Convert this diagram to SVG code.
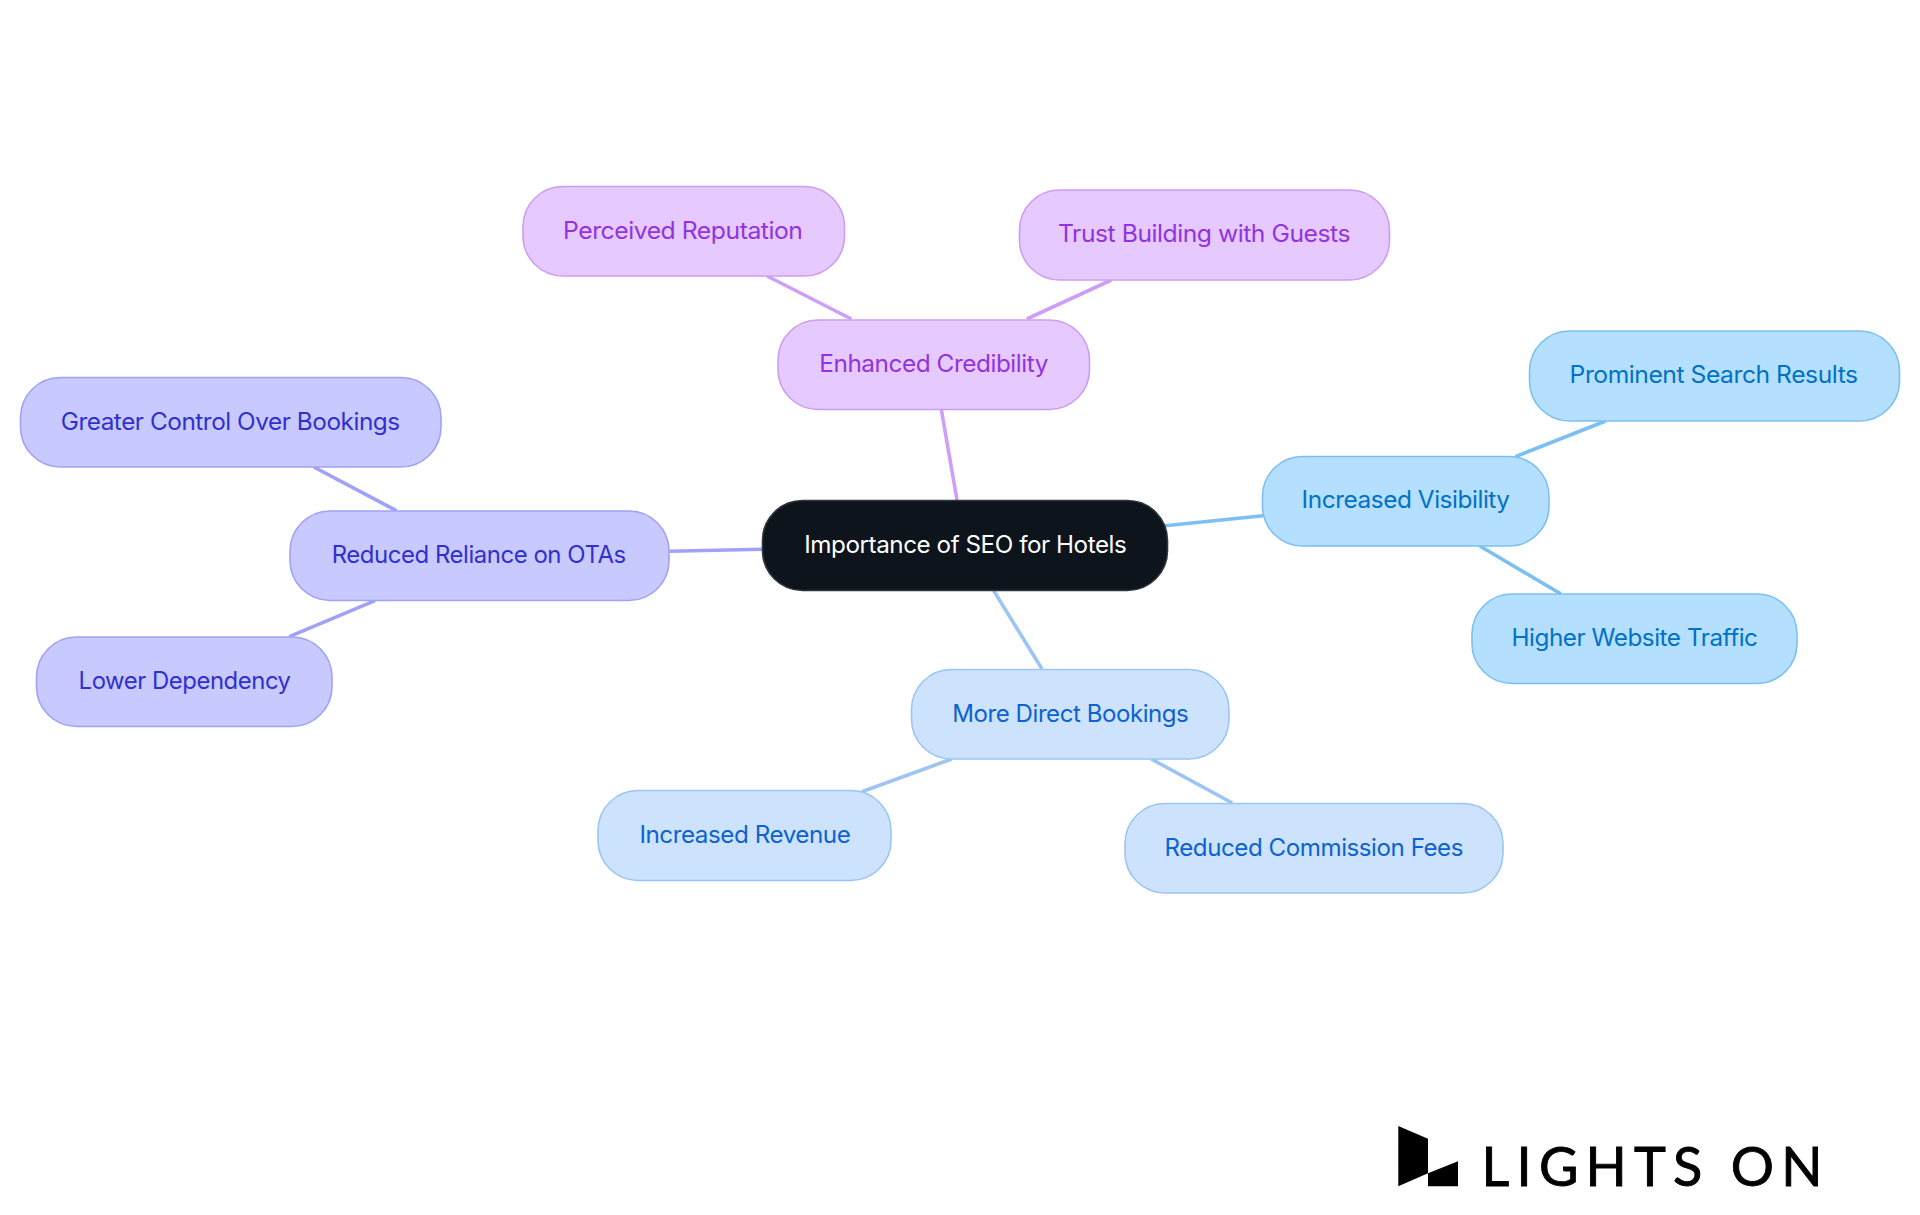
<svg xmlns="http://www.w3.org/2000/svg" width="1920" height="1215" viewBox="0 0 1920 1215">
<style>
text{font-family:"Inter","Noto Sans","Liberation Sans",sans-serif;font-size:24px;font-weight:400;letter-spacing:-.45px}
.b{stroke-width:1.6}
.e{stroke-width:3.6;fill:none}
.root rect{fill:#0d141c;stroke:#30363d}.root text{fill:#ffffff}
.pu rect{fill:#e6c9ff;stroke:#cd9df2}.pu text{fill:#9333dd}
.in rect{fill:#c8caff;stroke:#a0a2f5}.in text{fill:#3030d0}
.sk rect{fill:#b5dfff;stroke:#7cc0f3}.sk text{fill:#0072c6}
.bl rect{fill:#cde3fd;stroke:#9cc5f3}.bl text{fill:#0c62d0}
</style>
<rect width="1920" height="1215" fill="#ffffff"/>
<g id="connectors">
<g class="e" stroke="#cf9ff7"><line x1="957" y1="500" x2="941.4" y2="410"/><line x1="767" y1="276" x2="851.4" y2="319"/><line x1="1111.4" y1="280" x2="1026.8" y2="319"/></g>
<g class="e" stroke="#a0a2f7"><line x1="762.5" y1="549.3" x2="669.6" y2="551.3"/><line x1="313.8" y1="467" x2="396.4" y2="510.7"/><line x1="375" y1="600.7" x2="289.3" y2="636.7"/></g>
<g class="e" stroke="#7cc0f3"><line x1="1165" y1="525.7" x2="1263" y2="515.7"/><line x1="1605.6" y1="421" x2="1515.4" y2="456.7"/><line x1="1479.8" y1="546" x2="1561" y2="594"/></g>
<g class="e" stroke="#9cc5f3"><line x1="993.7" y1="590.7" x2="1042" y2="669"/><line x1="951.7" y1="759" x2="861.8" y2="791.7"/><line x1="1151.3" y1="759" x2="1232.3" y2="803"/></g>
</g>
<g id="n-root" class="root"><rect class="b" x="762.5" y="500.5" width="405" height="90" rx="40"/><text x="804.3" y="553" textLength="322" lengthAdjust="spacingAndGlyphs">Importance of SEO for Hotels</text></g>
<g id="n-credibility" class="pu"><rect class="b" x="778" y="320" width="311.5" height="89.5" rx="40"/><text x="819.3" y="372" textLength="228.6" lengthAdjust="spacingAndGlyphs">Enhanced Credibility</text></g>
<g id="n-reputation" class="pu"><rect class="b" x="523" y="186.5" width="321.5" height="89.5" rx="40"/><text x="563" y="238.5" textLength="239.5" lengthAdjust="spacingAndGlyphs">Perceived Reputation</text></g>
<g id="n-trust" class="pu"><rect class="b" x="1019.5" y="190" width="370" height="90" rx="40"/><text x="1058" y="242" textLength="292" lengthAdjust="spacingAndGlyphs">Trust Building with Guests</text></g>
<g id="n-reliance" class="in"><rect class="b" x="290" y="511" width="379" height="89.5" rx="40"/><text x="331.7" y="562.5" textLength="294" lengthAdjust="spacingAndGlyphs">Reduced Reliance on OTAs</text></g>
<g id="n-control" class="in"><rect class="b" x="20.5" y="377.5" width="420.5" height="89.5" rx="40"/><text x="60.7" y="429.5" textLength="339" lengthAdjust="spacingAndGlyphs">Greater Control Over Bookings</text></g>
<g id="n-dependency" class="in"><rect class="b" x="36.5" y="637" width="295.5" height="89.5" rx="40"/><text x="78.6" y="688.5" textLength="212" lengthAdjust="spacingAndGlyphs">Lower Dependency</text></g>
<g id="n-visibility" class="sk"><rect class="b" x="1262.5" y="456.5" width="286.5" height="89.5" rx="40"/><text x="1301.6" y="508" textLength="208" lengthAdjust="spacingAndGlyphs">Increased Visibility</text></g>
<g id="n-prominent" class="sk"><rect class="b" x="1529.5" y="331" width="370" height="90" rx="40"/><text x="1569.6" y="383" textLength="288" lengthAdjust="spacingAndGlyphs">Prominent Search Results</text></g>
<g id="n-traffic" class="sk"><rect class="b" x="1472" y="594" width="325" height="89.5" rx="40"/><text x="1511.5" y="646" textLength="246" lengthAdjust="spacingAndGlyphs">Higher Website Traffic</text></g>
<g id="n-bookings" class="bl"><rect class="b" x="911.5" y="669.5" width="317.5" height="89.5" rx="40"/><text x="952.3" y="721.5" textLength="236" lengthAdjust="spacingAndGlyphs">More Direct Bookings</text></g>
<g id="n-revenue" class="bl"><rect class="b" x="598" y="790.5" width="293" height="90" rx="40"/><text x="639.4" y="842.5" textLength="211" lengthAdjust="spacingAndGlyphs">Increased Revenue</text></g>
<g id="n-commission" class="bl"><rect class="b" x="1125" y="803.5" width="378" height="89.5" rx="40"/><text x="1164.5" y="856" textLength="298.5" lengthAdjust="spacingAndGlyphs">Reduced Commission Fees</text></g>
<g id="logo">
<polygon points="1398.3,1126 1428,1138.7 1428,1173.3 1398.3,1186.3" fill="#000"/>
<polygon points="1428,1173.3 1458,1161.3 1458,1186.3 1428,1186.3" fill="#000"/>
<text x="1481.5" y="1186.3" textLength="341" stroke="#000" stroke-width=".9" style="font-family:'Lato','Open Sans',sans-serif;font-size:54px;letter-spacing:0" fill="#000">LIGHTS ON</text>
</g>
</svg>
